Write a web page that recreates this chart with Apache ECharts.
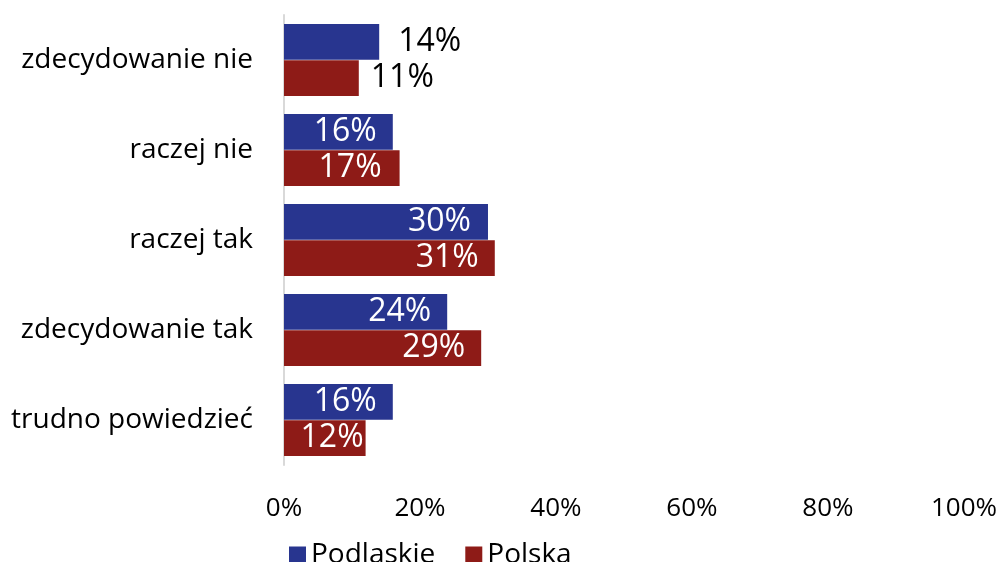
<!DOCTYPE html>
<html>
<head>
<meta charset="utf-8">
<script src="https://cdn.jsdelivr.net/npm/echarts@6/dist/echarts.min.js"></script>
<style>html,body{margin:0;padding:0;background:#fff}#c{width:1000px;height:562px}</style>
</head>
<body>
<div id="c"></div>
<script>
const categories = ['zdecydowanie nie', 'raczej nie', 'raczej tak', 'zdecydowanie tak', 'trudno powiedzieć'];
const podlaskie = [14, 16, 30, 24, 16];
const polska = [11, 17, 31, 29, 12];
const xTicks = [0, 20, 40, 60, 80, 100];

const FONT = '"Open Sans", sans-serif';
const BLUE = '#28358F';
const RED = '#8E1B17';

function labelled(values, outsideIdx, distances) {
  return values.map((v, i) => {
    if (outsideIdx.includes(i)) {
      return { value: v, label: { position: 'right', color: '#000', distance: distances[i] } };
    }
    return { value: v, label: { position: 'insideRight', color: '#fff', distance: distances[i] } };
  });
}

const chart = echarts.init(document.getElementById('c'), null, { renderer: 'canvas' });
chart.setOption({
  animation: false,
  textStyle: { fontFamily: FONT },
  grid: { left: 284, right: 34, top: 15, bottom: 97, containLabel: false },
  xAxis: {
    type: 'value', min: xTicks[0], max: xTicks[xTicks.length - 1], interval: 20,
    axisLine: { show: false }, axisTick: { show: false }, splitLine: { show: false },
    axisLabel: { formatter: '{value}%', fontSize: 26, color: '#000', margin: 31, fontFamily: FONT }
  },
  yAxis: {
    type: 'category', data: categories, inverse: true,
    axisLine: { show: true, lineStyle: { color: '#D9D9D9', width: 2 } },
    axisTick: { show: false },
    axisLabel: { fontSize: 28, color: '#000', margin: 31, fontFamily: FONT }
  },
  legend: {
    left: 289, top: 540, padding: 0, itemWidth: 17, itemHeight: 17, itemGap: 30,
    icon: 'rect',
    textStyle: { fontSize: 28, color: '#000', fontFamily: FONT, lineHeight: 30, padding: [0, 0, 0, 0] },
    data: ['Podlaskie', 'Polska']
  },
  series: [
    {
      name: 'Podlaskie', type: 'bar', barGap: '2%', barCategoryGap: '20%',
      itemStyle: { color: BLUE },
      label: { show: true, formatter: '{c}%', fontSize: 32, fontFamily: FONT },
      data: labelled(podlaskie, [0], [19, 16, 17, 16, 16])
    },
    {
      name: 'Polska', type: 'bar', barGap: '2%', barCategoryGap: '20%',
      itemStyle: { color: RED },
      label: { show: true, formatter: '{c}%', fontSize: 32, fontFamily: FONT },
      data: labelled(polska, [0], [12, 18, 16, 16, 2])
    }
  ]
});
</script>
</body>
</html>
